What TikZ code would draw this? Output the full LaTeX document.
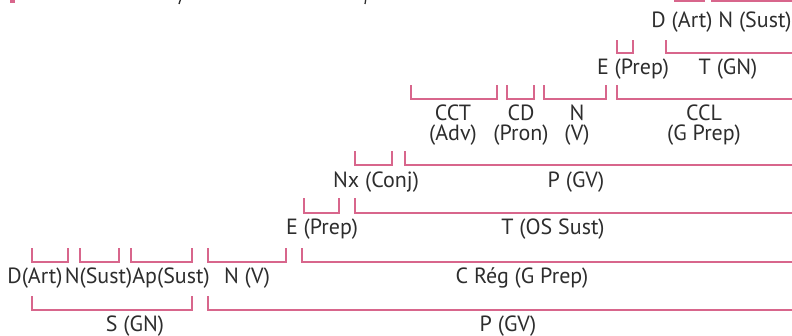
\documentclass[tikz,border=0pt]{standalone}
\usepackage{fontspec}
\setmainfont{PT Sans}
\definecolor{brk}{RGB}{216,102,140}
\definecolor{txt}{RGB}{45,45,45}
\tikzset{
  brkline/.style={draw=brk, line width=1.6pt, line cap=butt, line join=miter},
  lbl/.style={anchor=base, inner sep=0pt, text=txt, font=\fontsize{22}{19.5}\selectfont},
  twoline/.style={lbl, align=center}
}
\begin{document}
\begin{tikzpicture}[x=1pt,y=-1pt]
\useasboundingbox (0,0) rectangle (792,335);
\begin{scope}
\clip (0,0) rectangle (792,335);
% cropped fragments at top
\fill[brk] (10,-2) rectangle (15,3);
\draw[txt, line width=1.3pt] (181,-2) -- (179,4);
\draw[txt, line width=1.3pt] (366,-2) -- (365,4);
% Row A
\draw[brkline] (675,-10) -- (675,1) -- (704,1) -- (704,-10);
\draw[brkline] (712,-10) -- (712,1) -- (792,1);
\node[lbl] (dart2) at (682,27) {D (Art)};
\node[lbl] (nsust2) at (755,27) {N (Sust)};
% Row B
\draw[brkline] (617,40) -- (617,53) -- (633,53) -- (633,40);
\draw[brkline] (666,40) -- (666,53) -- (792,53);
\node[lbl] (eprep2) at (633,74) {E (Prep)};
\node[lbl] (tgn) at (728,74) {T (GN)};
% Row C
\draw[brkline] (411,85) -- (411,99) -- (497,99) -- (497,85);
\draw[brkline] (507,85) -- (507,99) -- (534,99) -- (534,85);
\draw[brkline] (544,85) -- (544,99) -- (606,99) -- (606,85);
\draw[brkline] (617,85) -- (617,99) -- (792,99);
\node[twoline] (cct) at (453,140) {CCT\\(Adv)};
\node[twoline] (cd) at (521,140) {CD\\(Pron)};
\node[twoline] (nv2) at (577,140) {N\\(V)};
\node[twoline] (ccl) at (704,140) {CCL\\(G Prep)};
% Row D
\draw[brkline] (355,151) -- (355,165) -- (392,165) -- (392,151);
\draw[brkline] (405,151) -- (405,165) -- (792,165);
\node[lbl] (nx) at (376,187.5) {Nx (Conj)};
\node[lbl] (pgv2) at (576,187.5) {P (GV)};
% Row E
\draw[brkline] (304,198) -- (304,213) -- (339,213) -- (339,198);
\draw[brkline] (355,198) -- (355,213) -- (792,213);
\node[lbl] (eprep1) at (322,234) {E (Prep)};
\node[lbl] (tos) at (553,234) {T (OS Sust)};
% Row F
\draw[brkline] (32,248) -- (32,262) -- (68,262) -- (68,248);
\draw[brkline] (80,248) -- (80,262) -- (119,262) -- (119,248);
\draw[brkline] (131,248) -- (131,262) -- (192,262) -- (192,248);
\draw[brkline] (208,248) -- (208,262) -- (286,262) -- (286,248);
\draw[brkline] (302,248) -- (302,262) -- (792,262);
\node[lbl] (dart1) at (35,283.3) {D(Art)};
\node[lbl] (nsust1) at (98.5,283.3) {N(Sust)};
\node[lbl] (ap) at (171,283.3) {Ap(Sust)};
\node[lbl] (nv1) at (247,283.3) {N (V)};
\node[lbl] (creg) at (522,283.3) {C Rég (G Prep)};
% Row G
\draw[brkline] (32,296) -- (32,310) -- (192,310) -- (192,296);
\draw[brkline] (208,296) -- (208,310) -- (792,310);
\node[lbl] (sgn) at (135,331) {S (GN)};
\node[lbl] (pgv1) at (508,331) {P (GV)};
\end{scope}
\end{tikzpicture}
\end{document}
